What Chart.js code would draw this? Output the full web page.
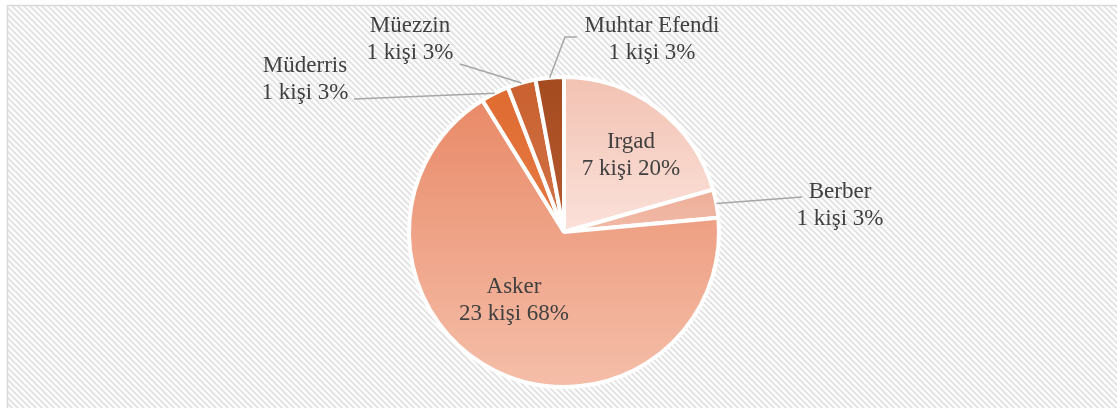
<!DOCTYPE html>
<html>
<head>
<meta charset="utf-8">
<script src="https://cdn.jsdelivr.net/npm/chart.js@4"></script>
<style>
  body { margin: 0; background: #fff; }
  #wrap { width: 1117px; height: 408px; position: relative; }
  #prova { position: absolute; left: -9999px; font-family: "Liberation Serif"; font-size: 23px; }
</style>
</head>
<body>
<div id="wrap"><canvas id="torta" width="1117" height="408"></canvas></div>
<span id="prova">Irgad kişi</span>
<script>
// dati del grafico
var categorie = ['Irgad', 'Berber', 'Asker', 'Müderris', 'Müezzin', 'Muhtar Efendi'];
var persone = [7, 1, 23, 1, 1, 1];
var percentuali = ['20%', '3%', '68%', '3%', '3%', '3%'];

// colori (alto -> basso del gradiente)
var coloriAlto = ['#f2c2b2', '#eeae98', '#e98a68', '#df6b30', '#c9602f', '#a44b20'];
var coloriBasso = ['#fbe1da', '#f1baa7', '#f5bea9', '#e57b45', '#d27449', '#b85a2e'];

var RAGGIO = 155;
var FONT = '23px "Liberation Serif"';

// posizione delle etichette: x centro, y prima riga, punti della linea guida
var etichette = [
    { x: 631, y: 148 },
    { x: 840, y: 198, guida: [[802, 197]] },
    { x: 514, y: 293 },
    { x: 305, y: 72, guida: [[354, 99]] },
    { x: 410, y: 32, guida: [[460, 64]] },
    { x: 652, y: 32, guida: [[577, 37], [565, 37]] }
];

// estensione verticale della fetta (in unità di raggio, -1 = alto)
function estensioneFetta(i) {
    var tot = persone.reduce(function(a, b) { return a + b; }, 0);
    var prima = 0;
    for (var k = 0; k < i; k++) prima += persone[k];
    var a0 = prima / tot * 2 * Math.PI;
    var a1 = (prima + persone[i]) / tot * 2 * Math.PI;
    var ys = [0, -Math.cos(a0), -Math.cos(a1)];
    if (a0 <= Math.PI && a1 >= Math.PI) ys.push(1);
    if (a0 <= 0 || a1 >= 2 * Math.PI) ys.push(-1);
    return [Math.min.apply(null, ys), Math.max.apply(null, ys)];
}

function coloreFetta(c) {
    var chart = c.chart;
    var area = chart.chartArea;
    var i = c.dataIndex;
    if (!area) return coloriAlto[i];
    var cy = (area.top + area.bottom) / 2;
    var ext = estensioneFetta(i);
    var g = chart.ctx.createLinearGradient(0, cy + ext[0] * RAGGIO, 0, cy + ext[1] * RAGGIO);
    g.addColorStop(0, coloriAlto[i]);
    g.addColorStop(1, coloriBasso[i]);
    return g;
}

// sfondo a righe diagonali e cornice
var sfondoPlugin = {
    id: 'sfondo',
    beforeDraw: function(chart) {
        var ctx = chart.ctx;
        var p = document.createElement('canvas');
        p.width = 6; p.height = 6;
        var pc = p.getContext('2d');
        pc.fillStyle = '#ffffff';
        pc.fillRect(0, 0, 6, 6);
        pc.strokeStyle = '#e4e4e4';
        pc.lineWidth = 2;
        pc.beginPath();
        pc.moveTo(-1, -1); pc.lineTo(7, 7);
        pc.moveTo(-7, -1); pc.lineTo(1, 7);
        pc.moveTo(5, -1); pc.lineTo(13, 7);
        pc.stroke();
        ctx.save();
        ctx.fillStyle = '#ffffff';
        ctx.fillRect(0, 0, chart.width, chart.height);
        ctx.fillStyle = ctx.createPattern(p, 'repeat');
        ctx.fillRect(7, 5, chart.width - 7, chart.height - 5);
        ctx.strokeStyle = '#d9d9d9';
        ctx.lineWidth = 1.5;
        ctx.strokeRect(7.5, 5.5, chart.width + 10, chart.height + 10);
        ctx.restore();
    }
};

// etichette con linee guida
var etichettePlugin = {
    id: 'etichette',
    afterDatasetsDraw: function(chart) {
        var ctx = chart.ctx;
        var archi = chart.getDatasetMeta(0).data;
        ctx.save();
        for (var i = 0; i < categorie.length; i++) {
            var e = etichette[i];
            if (e.guida) {
                var arco = archi[i];
                var mezzo = (arco.startAngle + arco.endAngle) / 2;
                var px = arco.x + Math.cos(mezzo) * arco.outerRadius;
                var py = arco.y + Math.sin(mezzo) * arco.outerRadius;
                ctx.strokeStyle = '#a6a6a6';
                ctx.lineWidth = 1.5;
                ctx.beginPath();
                ctx.moveTo(px, py);
                for (var j = e.guida.length - 1; j >= 0; j--) {
                    ctx.lineTo(e.guida[j][0], e.guida[j][1]);
                }
                ctx.stroke();
            }
            ctx.fillStyle = '#404040';
            ctx.font = FONT;
            ctx.textAlign = 'center';
            ctx.textBaseline = 'alphabetic';
            ctx.fillText(categorie[i], e.x, e.y);
            ctx.fillText(persone[i] + ' kişi ' + percentuali[i], e.x, e.y + 27);
        }
        ctx.restore();
    }
};

function creaGrafico() {
    var ctx = document.getElementById('torta').getContext('2d');
    var grafico = new Chart(ctx, {
        type: 'pie',
        data: {
            labels: categorie,
            datasets: [{
                data: persone,
                backgroundColor: coloreFetta,
                borderColor: '#ffffff',
                borderWidth: 4,
                radius: RAGGIO
            }]
        },
        options: {
            responsive: false,
            animation: false,
            layout: { padding: { left: 20, right: 9, top: 66, bottom: 10 } },
            plugins: {
                legend: { display: false },
                tooltip: { enabled: false }
            }
        },
        plugins: [sfondoPlugin, etichettePlugin]
    });
}

if (document.fonts && document.fonts.load) {
    document.fonts.load(FONT, 'Irgad kişi').then(creaGrafico, creaGrafico);
} else {
    creaGrafico();
}
</script>
</body>
</html>
